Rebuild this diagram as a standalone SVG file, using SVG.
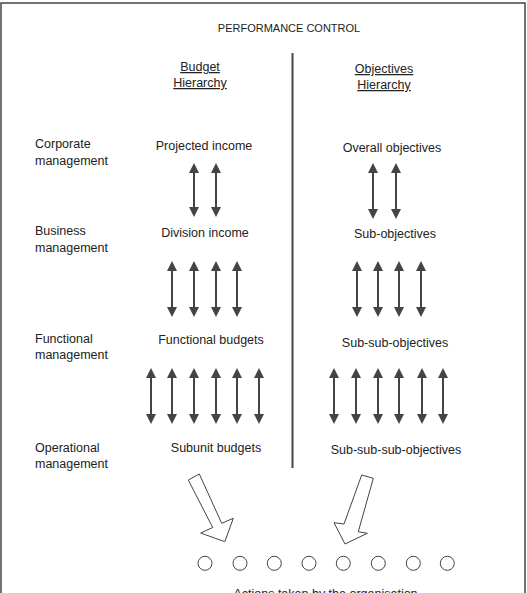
<svg xmlns="http://www.w3.org/2000/svg" width="527" height="593" viewBox="0 0 527 593">
<style>
text{font-family:"Liberation Sans",Arial,sans-serif;font-size:12.5px;fill:#222}
.c{text-anchor:middle}
.u{text-decoration:underline}
.arr line{stroke:#444;stroke-width:2;marker-start:url(#ah);marker-end:url(#ah)}
.blk{fill:#fff;stroke:#444;stroke-width:1}
.dot{fill:#fff;stroke:#444;stroke-width:1}
</style>
<defs>
<marker id="ah" markerUnits="userSpaceOnUse" markerWidth="10" markerHeight="10" refX="5" refY="5" orient="auto-start-reverse" viewBox="0 0 10 10">
<path d="M0,0 L10,5 L0,10 z" fill="#444"/>
</marker>
</defs>
<rect x="1" y="3" width="524" height="620" fill="#fff" stroke="#444" stroke-width="1.5"/>
<g id="title"><text class="c" x="289" y="32" style="font-size:11px">PERFORMANCE CONTROL</text></g>
<g id="divider"><line x1="292.5" y1="53" x2="292.5" y2="468" stroke="#444" stroke-width="2"/></g>
<g id="budget-header"><text class="c u" x="200" y="71">Budget</text><text class="c u" x="200" y="87">Hierarchy</text></g>
<g id="objectives-header"><text class="c u" x="384" y="73">Objectives</text><text class="c u" x="384" y="89">Hierarchy</text></g>
<g id="level-corporate"><text x="35" y="148">Corporate</text><text x="35" y="165">management</text></g>
<g id="level-business"><text x="35" y="235">Business</text><text x="35" y="252">management</text></g>
<g id="level-functional"><text x="35" y="343">Functional</text><text x="35" y="359">management</text></g>
<g id="level-operational"><text x="35" y="452">Operational</text><text x="35" y="468">management</text></g>
<g id="projected-income"><text class="c" x="204" y="150">Projected income</text></g>
<g id="division-income"><text class="c" x="205" y="237">Division income</text></g>
<g id="functional-budgets"><text class="c" x="211" y="344">Functional budgets</text></g>
<g id="subunit-budgets"><text class="c" x="216" y="452">Subunit budgets</text></g>
<g id="overall-objectives"><text class="c" x="392" y="152">Overall objectives</text></g>
<g id="sub-objectives"><text class="c" x="395" y="238">Sub-objectives</text></g>
<g id="sub-sub-objectives"><text class="c" x="395" y="347">Sub-sub-objectives</text></g>
<g id="sub-sub-sub-objectives"><text class="c" x="396" y="454">Sub-sub-sub-objectives</text></g>
<g id="connectors">
<g class="arr">
<line x1="194" y1="168" x2="194" y2="212"/><line x1="216" y1="168" x2="216" y2="212"/>
<line x1="373" y1="168" x2="373" y2="214"/><line x1="396" y1="168" x2="396" y2="214"/>
<line x1="172" y1="266" x2="172" y2="312"/><line x1="194" y1="266" x2="194" y2="312"/><line x1="216" y1="266" x2="216" y2="312"/><line x1="237" y1="266" x2="237" y2="312"/>
<line x1="357" y1="266" x2="357" y2="312"/><line x1="378" y1="266" x2="378" y2="312"/><line x1="399" y1="266" x2="399" y2="312"/><line x1="421" y1="266" x2="421" y2="312"/>
<line x1="151" y1="373" x2="151" y2="419"/><line x1="172" y1="373" x2="172" y2="419"/><line x1="194" y1="373" x2="194" y2="419"/><line x1="216" y1="373" x2="216" y2="419"/><line x1="237" y1="373" x2="237" y2="419"/><line x1="259" y1="373" x2="259" y2="419"/>
<line x1="334" y1="373" x2="334" y2="419"/><line x1="356" y1="373" x2="356" y2="419"/><line x1="378" y1="373" x2="378" y2="419"/><line x1="399" y1="373" x2="399" y2="419"/><line x1="422" y1="373" x2="422" y2="419"/><line x1="443" y1="373" x2="443" y2="419"/>
</g>
<polygon class="blk" points="188.3,480 199.3,474 221.7,523.3 233.3,518.3 224.8,541.7 200.7,533 212.7,527.5"/>
<polygon class="blk" points="361.7,475 373.3,478.3 358.3,531.7 367.3,533.3 345,544 334,522.7 344,524"/>
</g>
<g id="actions">
<circle class="dot" cx="205" cy="563.3" r="7"/><circle class="dot" cx="240" cy="563.3" r="7"/><circle class="dot" cx="274.3" cy="563.3" r="7"/><circle class="dot" cx="309" cy="563.3" r="7"/><circle class="dot" cx="343.3" cy="563.3" r="7"/><circle class="dot" cx="378.3" cy="563.3" r="7"/><circle class="dot" cx="413.3" cy="563.3" r="7"/><circle class="dot" cx="447.3" cy="563.3" r="7"/>
<text class="c" x="325.5" y="597.5">Actions taken by the organisation</text>
</g>
</svg>
